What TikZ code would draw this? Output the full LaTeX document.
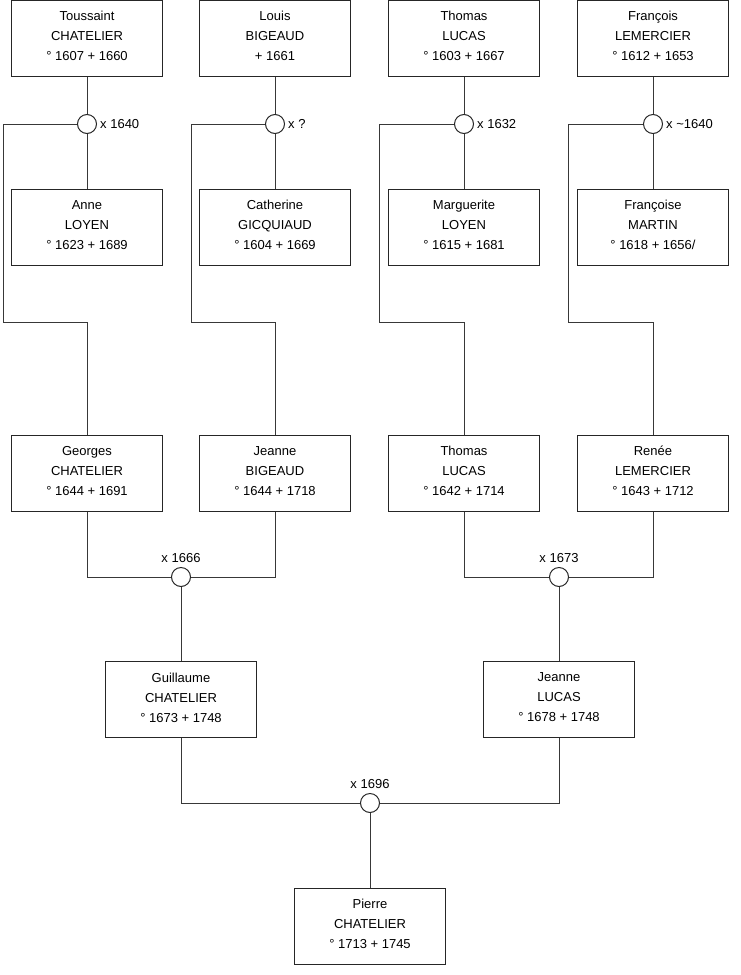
\documentclass[tikz,border=0pt]{standalone}
\usepackage{fontspec}
\setmainfont{Liberation Sans}
\begin{document}
\begin{tikzpicture}[x=1pt,y=-1pt,
  person/.style={draw=black!85, line width=1pt, minimum width=151pt, minimum height=76pt, inner sep=0pt, align=center, font=\fontsize{13}{20}\selectfont, text depth=4pt},
  wed/.style={circle, draw=black!85, line width=1pt, fill=white, minimum size=19pt, inner sep=0pt},
  link/.style={draw=black!78, line width=1pt},
  datelbl/.style={font=\fontsize{13}{16}\selectfont, inner sep=0pt}]
\useasboundingbox (0,0) rectangle (740,975);
% row 1
\node[person] (ts) at (87,38) {Toussaint\\CHATELIER\\° 1607 + 1660};
\node[person] (lb) at (275,38) {Louis\\BIGEAUD\\+ 1661};
\node[person] (tl) at (464,38) {Thomas\\LUCAS\\° 1603 + 1667};
\node[person] (fl) at (653,38) {François\\LEMERCIER\\° 1612 + 1653};
% row 2
\node[person] (al) at (87,227) {Anne\\LOYEN\\° 1623 + 1689};
\node[person] (cg) at (275,227) {Catherine\\GICQUIAUD\\° 1604 + 1669};
\node[person] (ml) at (464,227) {Marguerite\\LOYEN\\° 1615 + 1681};
\node[person] (fm) at (653,227) {Françoise\\MARTIN\\° 1618 + 1656/};
% row 3
\node[person] (gc) at (87,473) {Georges\\CHATELIER\\° 1644 + 1691};
\node[person] (jb) at (275,473) {Jeanne\\BIGEAUD\\° 1644 + 1718};
\node[person] (tm) at (464,473) {Thomas\\LUCAS\\° 1642 + 1714};
\node[person] (rl) at (653,473) {Renée\\LEMERCIER\\° 1643 + 1712};
% row 4
\node[person] (gu) at (181,699.5) {Guillaume\\CHATELIER\\° 1673 + 1748};
\node[person] (jl) at (559,699.5) {Jeanne\\LUCAS\\° 1678 + 1748};
% row 5
\node[person] (pc) at (370,926) {Pierre\\CHATELIER\\° 1713 + 1745};
% marriages
\node[wed] (m1) at (87,124) {};
\node[wed] (m2) at (275,124) {};
\node[wed] (m3) at (464,124) {};
\node[wed] (m4) at (653,124) {};
\node[wed] (m5) at (181,577) {};
\node[wed] (m6) at (559,577) {};
\node[wed] (m7) at (370,803) {};
% marriage labels
\node[datelbl, anchor=west] (d1) at ([xshift=3pt]m1.east) {x 1640};
\node[datelbl, anchor=west] (d2) at ([xshift=3pt]m2.east) {x ?};
\node[datelbl, anchor=west] (d3) at ([xshift=3pt]m3.east) {x 1632};
\node[datelbl, anchor=west] (d4) at ([xshift=3pt]m4.east) {x \textasciitilde1640};
\node[datelbl, anchor=base] (d5) at ([yshift=5pt]m5.north) {x 1666};
\node[datelbl, anchor=base] (d6) at ([yshift=5pt]m6.north) {x 1673};
\node[datelbl, anchor=base] (d7) at ([yshift=5pt]m7.north) {x 1696};
% bend points
\coordinate (c1) at (3,322);
\coordinate (c2) at (191,322);
\coordinate (c3) at (379,322);
\coordinate (c4) at (568,322);
% connectors
\draw[link] (ts) -- (m1);
\draw[link] (m1) -- (al);
\draw[link] (m1.west) -| (c1) -| (gc.north);
\draw[link] (lb) -- (m2);
\draw[link] (m2) -- (cg);
\draw[link] (m2.west) -| (c2) -| (jb.north);
\draw[link] (tl) -- (m3);
\draw[link] (m3) -- (ml);
\draw[link] (m3.west) -| (c3) -| (tm.north);
\draw[link] (fl) -- (m4);
\draw[link] (m4) -- (fm);
\draw[link] (m4.west) -| (c4) -| (rl.north);
\draw[link] (gc.south) |- (m5.west);
\draw[link] (jb.south) |- (m5.east);
\draw[link] (m5) -- (gu);
\draw[link] (tm.south) |- (m6.west);
\draw[link] (rl.south) |- (m6.east);
\draw[link] (m6) -- (jl);
\draw[link] (gu.south) |- (m7.west);
\draw[link] (jl.south) |- (m7.east);
\draw[link] (m7) -- (pc);
\end{tikzpicture}
\end{document}
